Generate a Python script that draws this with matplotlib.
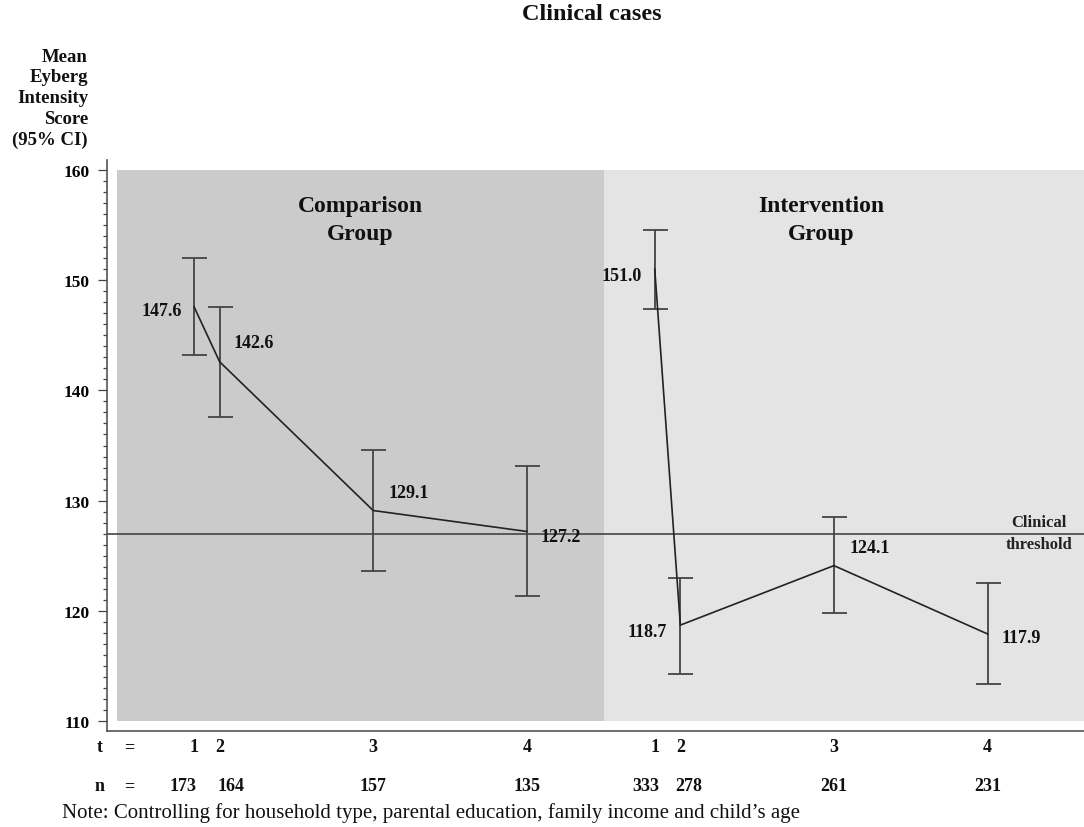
import matplotlib
matplotlib.use("Agg")
import matplotlib.pyplot as plt
from matplotlib.patches import Rectangle
import numpy as np

plt.rcParams['font.family'] = ['Liberation Serif', 'DejaVu Serif']

# Zeitpunkte (x) und Werte je Gruppe
comp_x = [0, 1, 7, 13]
comp_mean = [147.6, 142.6, 129.1, 127.2]
comp_lo = [143.2, 137.6, 123.6, 121.3]
comp_hi = [152.0, 147.6, 134.6, 133.1]
comp_n = [173, 164, 157, 135]

int_x = [18, 19, 25, 31]
int_mean = [151.0, 118.7, 124.1, 117.9]
int_lo = [147.4, 114.3, 119.8, 113.4]
int_hi = [154.6, 123.0, 128.5, 122.5]
int_n = [333, 278, 261, 231]

t_labels = ['1', '2', '3', '4']
threshold = 127.0

W, H = 1084, 828
fig = plt.figure(figsize=(W / 100, H / 100), dpi=100)
ax = fig.add_axes([107 / W, 1 - 732 / H, 1 - 107 / W, (732 - 160.7) / H])
ax.set_xlim(-3.4, 34.77)
ax.set_ylim(109.09, 160.94)

# Hintergrundflaechen
ax.add_patch(Rectangle((-3, 110), 19, 50, facecolor='#cbcbcb', edgecolor='none', zorder=0))
ax.add_patch(Rectangle((16, 110), 34.77 - 16, 50, facecolor='#e4e4e4', edgecolor='none', zorder=0))

ax.axhline(threshold, color='#444444', lw=1.2, zorder=1)

lab_font = dict(fontsize=13, fontweight='bold', color='#111111')
# Versatz der Wertelabels in Pixeln (dx, dy, ha)
comp_off = [(-12, -4, 'right'), (14, 19, 'left'), (15, 18, 'left'), (14, -5, 'left')]
int_off = [(-13, -6, 'right'), (-13, -6, 'right'), (16, 18, 'left'), (14, -4, 'left')]

for xs, m, lo, hi, offs in [(comp_x, comp_mean, comp_lo, comp_hi, comp_off),
                            (int_x, int_mean, int_lo, int_hi, int_off)]:
    m = np.array(m)
    yerr = [m - np.array(lo), np.array(hi) - m]
    ax.errorbar(xs, m, yerr=yerr, fmt='none', ecolor='#444444', elinewidth=1.3,
                capsize=9, capthick=1.3, zorder=2)
    ax.plot(xs, m, color='#222222', lw=1.2, zorder=3)
    for x, v, (dx, dy, ha) in zip(xs, m, offs):
        ax.annotate(f'{v:.1f}', (x, v), xytext=(dx * 0.72, dy * 0.72),
                    textcoords='offset points', ha=ha, va='center', **lab_font)

ax.text(np.mean([comp_x[0], comp_x[-1]]), 155.5, 'Comparison\nGroup', ha='center', va='center',
        fontsize=17, fontweight='bold', linespacing=1.45, color='#111111')
ax.text(np.mean([int_x[0], int_x[-1]]), 155.5, 'Intervention\nGroup', ha='center', va='center',
        fontsize=17, fontweight='bold', linespacing=1.45, color='#111111')

ax.text(33, threshold + 0.3, 'Clinical', ha='center', va='bottom', fontsize=12,
        fontweight='bold', color='#222222')
ax.text(33, threshold - 0.2, 'threshold', ha='center', va='top', fontsize=12,
        fontweight='bold', color='#222222')

# Achsen
for s in ['top', 'right']:
    ax.spines[s].set_visible(False)
for s in ['left', 'bottom']:
    ax.spines[s].set_color('#555555')
    ax.spines[s].set_linewidth(1.2)
ax.set_xticks([])
ax.set_yticks(np.arange(110, 161, 10))
ax.set_yticks(np.arange(110, 161, 1), minor=True)
ax.tick_params(axis='y', which='major', length=6.5, width=0.9, color='#444444', pad=6,
               labelsize=12.5)
ax.tick_params(axis='y', which='minor', length=3, width=0.9, color='#444444')
for lab in ax.get_yticklabels():
    lab.set_fontweight('bold')

# t- und n-Zeilen unter der Achse
n_nudge = [-11, 11, 0, 0]
for xs, ns, nudge_sign in [(comp_x, comp_n, 1), (int_x, int_n, 0.8)]:
    for i, (x, n) in enumerate(zip(xs, ns)):
        ax.annotate(t_labels[i], (x, 0), xycoords=('data', 'axes fraction'),
                    xytext=(0, -16 * 0.72), textcoords='offset points',
                    ha='center', va='center', annotation_clip=False, **lab_font)
        ax.annotate(str(n), (x, 0), xycoords=('data', 'axes fraction'),
                    xytext=(n_nudge[i] * nudge_sign * 0.72, -55 * 0.72), textcoords='offset points',
                    ha='center', va='center', annotation_clip=False, **lab_font)

fig.text(100 / W, 1 - 748 / H, 't', ha='center', va='center', **lab_font)
fig.text(129 / W, 1 - 748 / H, '=', ha='center', va='center', **lab_font)
fig.text(100 / W, 1 - 787 / H, 'n', ha='center', va='center', **lab_font)
fig.text(129 / W, 1 - 787 / H, '=', ha='center', va='center', **lab_font)

fig.text(62 / W, 1 - 813 / H,
         "Note: Controlling for household type, parental education, family income and child\u2019s age",
         ha='left', va='center', fontsize=15, color='#111111')

fig.text(592 / W, 1 - 14 / H, 'Clinical cases', ha='center', va='center',
         fontsize=17.5, fontweight='bold', color='#111111')
fig.text(88 / W, 1 - 99 / H, 'Mean\nEyberg\nIntensity\nScore\n(95% CI)', ha='right',
         va='center', multialignment='right', fontsize=13.5, fontweight='bold',
         linespacing=1.3, color='#111111')

fig.savefig('out.png', dpi=100)
